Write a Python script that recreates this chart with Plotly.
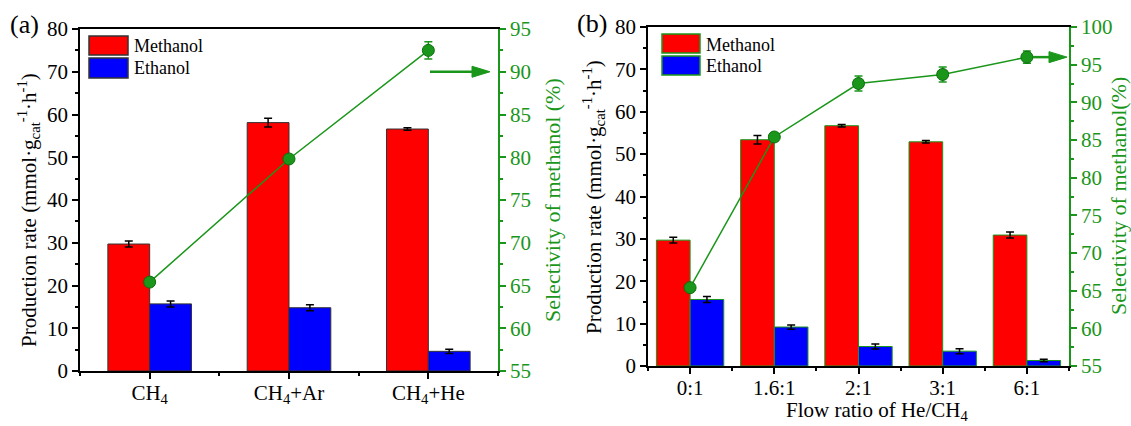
import plotly.graph_objects as go

# ---------------- data ----------------
cats_a = ["CH<sub>4</sub>", "CH<sub>4</sub>+Ar", "CH<sub>4</sub>+He"]
meth_a = [29.7, 58.1, 56.6]
meth_a_err = [0.7, 1.0, 0.3]
eth_a = [15.7, 14.8, 4.6]
eth_a_err = [0.7, 0.7, 0.5]
sel_a = [65.4, 79.8, 92.5]
sel_a_err = [0.3, 0.4, 1.0]

cats_b = ["0:1", "1.6:1", "2:1", "3:1", "6:1"]
meth_b = [29.7, 53.4, 56.7, 52.9, 30.9]
meth_b_err = [0.7, 1.0, 0.3, 0.3, 0.7]
eth_b = [15.7, 9.2, 4.6, 3.5, 1.3]
eth_b_err = [0.7, 0.5, 0.6, 0.6, 0.3]
sel_b = [65.4, 85.4, 92.5, 93.7, 96.0]
sel_b_err = [0.3, 0.5, 1.0, 1.0, 0.8]

# ---------------- style ----------------
W, H = 1131, 426
FONT = "Liberation Serif, Times New Roman, serif"
GREEN = "#1a961a"
RED = "#ff0000"
BLUE = "#0000ff"
TICK = 21


def px(x):
    return x / W


def py(y):
    return 1 - y / H


xa = list(range(len(cats_a)))
xb = list(range(len(cats_b)))

fig = go.Figure()

err_bar = dict(type="data", color="black", thickness=1.5, width=4, visible=True)

# Panel (a)
fig.add_trace(go.Bar(x=xa, y=meth_a, width=0.3, offset=-0.3, marker=dict(color=RED, line=dict(color="#333333", width=1)),
                     error_y=dict(err_bar, array=meth_a_err), xaxis="x", yaxis="y", name="Methanol"))
fig.add_trace(go.Bar(x=xa, y=eth_a, width=0.3, offset=0, marker=dict(color=BLUE, line=dict(color="#333333", width=1)),
                     error_y=dict(err_bar, array=eth_a_err), xaxis="x", yaxis="y", name="Ethanol"))
fig.add_trace(go.Scatter(x=xa, y=sel_a, mode="lines+markers", xaxis="x", yaxis="y2",
                         line=dict(color=GREEN, width=1.5),
                         marker=dict(color=GREEN, size=12, line=dict(color="#0d6e0d", width=1)),
                         error_y=dict(type="data", array=sel_a_err, color=GREEN, thickness=1.5, width=4),
                         name="Selectivity"))

# Panel (b)
fig.add_trace(go.Bar(x=xb, y=meth_b, width=0.4, offset=-0.4, marker=dict(color=RED, line=dict(color=GREEN, width=1)),
                     error_y=dict(err_bar, array=meth_b_err), xaxis="x2", yaxis="y3", name="Methanol"))
fig.add_trace(go.Bar(x=xb, y=eth_b, width=0.4, offset=0, marker=dict(color=BLUE, line=dict(color=GREEN, width=1)),
                     error_y=dict(err_bar, array=eth_b_err), xaxis="x2", yaxis="y3", name="Ethanol"))
fig.add_trace(go.Scatter(x=xb, y=sel_b, mode="lines+markers", xaxis="x2", yaxis="y4",
                         line=dict(color=GREEN, width=1.5),
                         marker=dict(color=GREEN, size=12, line=dict(color="#0d6e0d", width=1)),
                         error_y=dict(type="data", array=sel_b_err, color=GREEN, thickness=1.5, width=4),
                         name="Selectivity"))

common_x = dict(showline=True, linecolor="black", linewidth=1.5, mirror=True, ticks="outside",
                ticklen=6, tickwidth=1.5, tickcolor="black", showgrid=False, zeroline=False, automargin=False,
                ticklabelstandoff=-4,
                tickfont=dict(size=TICK, family=FONT, color="black"),
                minor=dict(ticks="outside", ticklen=3, tickwidth=1.5, tickcolor="black", tick0=0.5, dtick=1, showgrid=False))
common_yl = dict(showline=True, linecolor="black", linewidth=1.5, ticks="outside", ticklen=6, tickwidth=1.5,
                 tickcolor="black", showgrid=False, zeroline=False, range=[0, 80], dtick=10, tick0=0, automargin=False,
                 tickfont=dict(size=TICK, family=FONT, color="black"),
                 minor=dict(ticks="outside", ticklen=3, tickwidth=1.5, tickcolor="black", dtick=5, showgrid=False))
common_yr = dict(showline=True, linecolor=GREEN, linewidth=1.5, ticks="outside", ticklen=6, tickwidth=1.5,
                 tickcolor=GREEN, showgrid=False, zeroline=False, dtick=5, tick0=55, side="right", automargin=False,
                 tickfont=dict(size=TICK, family=FONT, color=GREEN),
                 minor=dict(ticks="outside", ticklen=3, tickwidth=1.5, tickcolor=GREEN, dtick=2.5, showgrid=False))

fig.update_layout(
    template="none",
    width=W, height=H,
    autosize=False,
    margin=dict(l=0, r=0, t=0, b=0, pad=0),
    paper_bgcolor="white", plot_bgcolor="white",
    font=dict(family=FONT, size=20, color="black"),
    showlegend=False,
    xaxis=dict(common_x, domain=[px(80), px(498)], anchor="y", range=[-0.5, 2.5],
               tickmode="array", tickvals=xa, ticktext=cats_a),
    yaxis=dict(common_yl, domain=[py(371), py(29)], anchor="x"),
    yaxis2=dict(common_yr, overlaying="y", anchor="x", range=[55, 95]),
    xaxis2=dict(common_x, domain=[px(648), px(1069)], anchor="y3", range=[-0.5, 4.5],
                tickmode="array", tickvals=xb, ticktext=cats_b),
    yaxis3=dict(common_yl, domain=[py(366), py(27)], anchor="x2"),
    yaxis4=dict(common_yr, overlaying="y3", anchor="x2", range=[55, 100]),
)

# ---------------- arrows (pointing to right axis) ----------------
shapes = []
for xref, yref, xanc, yanc, tip, start in [("x", "y2", 2.5, 90, -8, -68), ("x2", "y4", 4.5, 96.0, -2, -36)]:
    shapes.append(dict(type="path", xref=xref, yref=yref, xsizemode="pixel", ysizemode="pixel",
                       xanchor=xanc, yanchor=yanc,
                       path=f"M {start},0 L {tip-16},0",
                       line=dict(color=GREEN, width=2.5)))
    shapes.append(dict(type="path", xref=xref, yref=yref, xsizemode="pixel", ysizemode="pixel",
                       xanchor=xanc, yanchor=yanc,
                       path=f"M {tip},0 L {tip-18},5.5 L {tip-18},-5.5 Z",
                       fillcolor=GREEN, line=dict(color=GREEN, width=1)))

# ---------------- manual legends ----------------
annotations = []
for (bx0, bx1, my0, my1, ey0, ey1, tx, mty, ety, edge) in [
    (89, 128, 36, 55, 58, 78, 132, 46, 68, "#333333"),
    (662, 700, 34, 53, 56, 75, 704, 45, 66, GREEN),
]:
    shapes.append(dict(type="rect", xref="paper", yref="paper", x0=px(bx0), x1=px(bx1), y0=py(my1), y1=py(my0),
                       fillcolor=RED, line=dict(color=edge, width=1.5)))
    shapes.append(dict(type="rect", xref="paper", yref="paper", x0=px(bx0), x1=px(bx1), y0=py(ey1), y1=py(ey0),
                       fillcolor=BLUE, line=dict(color=edge, width=1.5)))
    annotations.append(dict(text="Methanol", x=px(tx), y=py(mty), xref="paper", yref="paper", xanchor="left",
                            yanchor="middle", showarrow=False, font=dict(size=18, family=FONT, color="black")))
    annotations.append(dict(text="Ethanol", x=px(tx), y=py(ety), xref="paper", yref="paper", xanchor="left",
                            yanchor="middle", showarrow=False, font=dict(size=18, family=FONT, color="black")))

# ---------------- titles / labels ----------------
ytitle = "Production rate (mmol·g<sub>cat</sub><sup>-1</sup>·h<sup>-1</sup>)"


def label(text, x, y, size=22, color="black", angle=0):
    return dict(text=text, x=px(x), y=py(y), xref="paper", yref="paper", showarrow=False,
                xanchor="center", yanchor="middle", textangle=angle,
                font=dict(size=size, family=FONT, color=color))


annotations += [
    label("(a)", 24, 25, size=26),
    label("(b)", 592, 23, size=26),
    label(ytitle, 28, 210, size=21, angle=-90),
    label("Selectivity of methanol (%)", 552, 200, color=GREEN, angle=-90),
    label(ytitle, 593, 197, size=21, angle=-90),
    label("Selectivity of methanol(%)", 1118, 196, color=GREEN, angle=-90),
    label("Flow ratio of He/CH<sub>4</sub>", 877, 411, size=21),
]

fig.update_layout(shapes=shapes, annotations=annotations)

fig.write_html("out.html", config={"displayModeBar": False},
               post_script="document.body.style.margin='0px';document.body.style.overflow='hidden';")
